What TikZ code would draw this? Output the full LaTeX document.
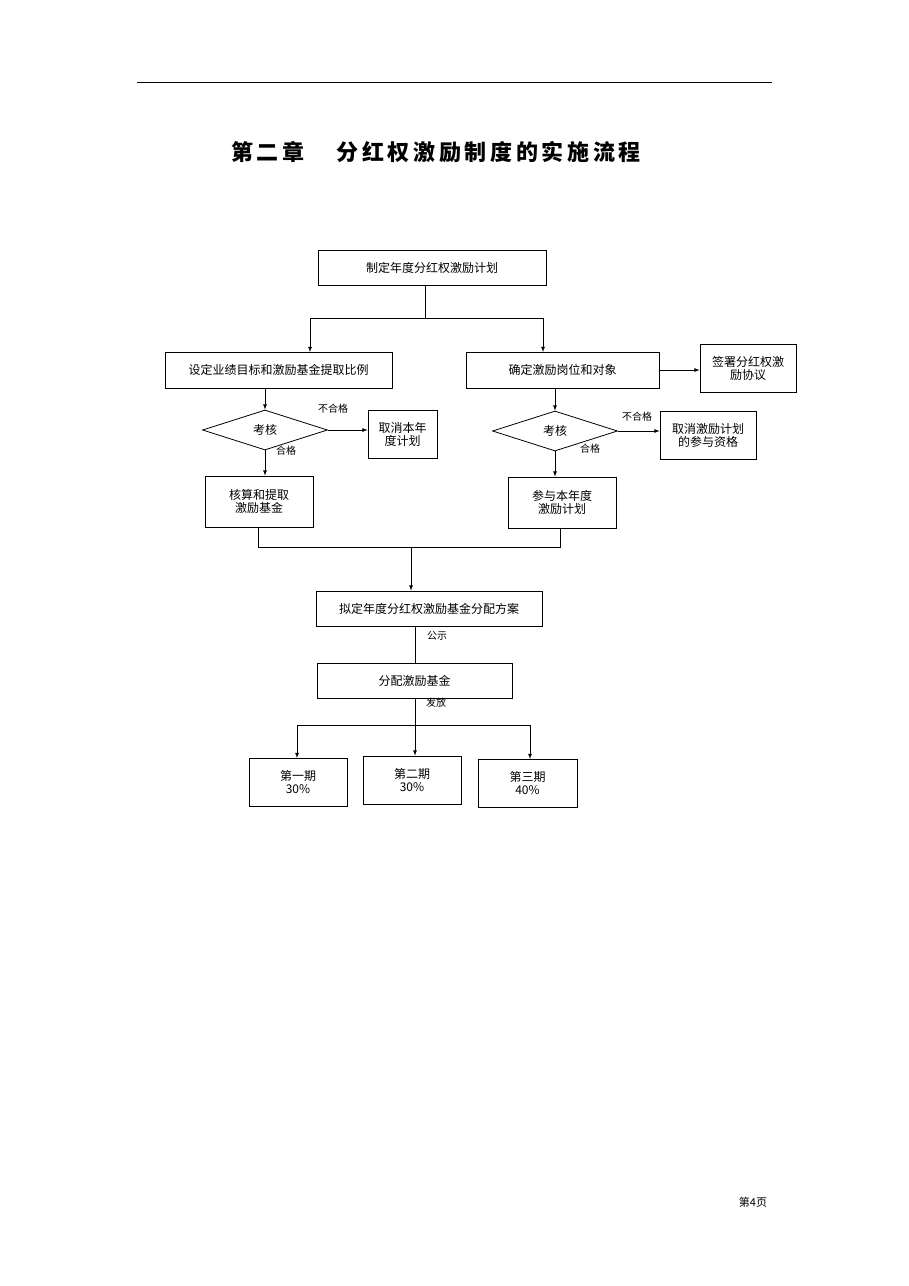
\documentclass[tikz,border=0pt]{standalone}
\usepackage{fontspec}
\setmainfont{Liberation Serif}
\newfontfamily\cjk{Noto Sans CJK SC}
\usetikzlibrary{shapes.geometric,calc}
\begin{document}
\begin{tikzpicture}[x=1pt,y=-1pt,
    box/.style={draw, thick, minimum width=#1, align=center, inner sep=2pt, font=\cjk\fontsize{12}{13}\selectfont},
    box/.default=100pt,
    check/.style={draw, thick, diamond, aspect=3.1, minimum width=125pt, minimum height=40pt, inner sep=0pt, font=\cjk\fontsize{12}{13}\selectfont},
    lbl/.style={font=\cjk\fontsize{10}{11}\selectfont},
    arrow/.style={-latex, thick},
    line/.style={thick}
]
    \useasboundingbox (0,0) rectangle (909,1286);
    \draw[line] (137,82) -- (772,82);
    \node[font=\cjk\bfseries\fontsize{22}{24}\selectfont] (title) at (436,152) {第\,二\,章\quad\ \ 分\,红\,权\,激\,励\,制\,度\,的\,实\,施\,流\,程};

    \node[box=228pt, minimum height=35pt] (plan) at (432,267.5) {制定年度分红权激励计划};
    \node[box=227pt, minimum height=36pt] (target) at (278.5,370) {设定业绩目标和激励基金提取比例};
    \node[box=193pt, minimum height=36pt] (post) at (562.5,370) {确定激励岗位和对象};
    \node[box=96pt, minimum height=48pt] (sign) at (748,368) {签署分红权激\\励协议};

    \node[check] (checkL) at (265,430) {考核};
    \node[box=69pt, minimum height=48pt] (cancelL) at (402.5,434) {取消本年\\度计划};
    \node[box=108pt, minimum height=51pt] (fund) at (259,501.5) {核算和提取\\激励基金};

    \node[check] (checkR) at (555,431) {考核};
    \node[box=96pt, minimum height=48pt] (cancelR) at (708,435) {取消激励计划\\的参与资格};
    \node[box=108pt, minimum height=51pt] (join) at (562,502.5) {参与本年度\\激励计划};

    \node[box=226pt, minimum height=35pt] (scheme) at (429,608.5) {拟定年度分红权激励基金分配方案};
    \node[box=195pt, minimum height=35pt] (alloc) at (414.5,680.5) {分配激励基金};

    \node[box=98pt, minimum height=48pt, font=\cjk\fontsize{12}{13}\selectfont] (p1) at (298,782) {第一期\\30\%};
    \node[box=98pt, minimum height=48pt] (p2) at (412,780) {第二期\\30\%};
    \node[box=99pt, minimum height=48pt] (p3) at (527.5,783) {第三期\\40\%};

    % split of the plan
    \coordinate (s0) at (425,318);
    \draw[line] (plan.south -| s0) -- (s0);
    \draw[arrow] (s0) -| (310,352);
    \draw[arrow] (s0) -| (543,352);
    \draw[arrow] (post.east) -- (sign.west |- post.east);

    % left branch
    \draw[arrow] (target.south -| checkL) -- (checkL.north);
    \draw[arrow] (checkL.east) -- (cancelL.west |- checkL.east);
    \node[lbl] at (333,409) {不合格};
    \draw[arrow] (checkL.south) -- (checkL.south |- fund.north);
    \node[lbl] at (286,451) {合格};

    % right branch
    \draw[arrow] (post.south -| checkR) -- (checkR.north);
    \draw[arrow] (checkR.east) -- (cancelR.west |- checkR.east);
    \node[lbl] at (637,417) {不合格};
    \draw[arrow] (checkR.south) -- (checkR.south |- join.north);
    \node[lbl] at (590,449) {合格};

    % merge
    \coordinate (m0) at (411,547);
    \draw[line] (fund.south -| 258,0) -- (258,547) -- (560,547) -- (join.south -| 560,0);
    \draw[arrow] (m0) -- (m0 |- scheme.north);

    \draw[line] (scheme.south -| 415,0) -- (alloc.north -| 415,0);
    \node[lbl] at (437,636) {公示};
    \coordinate (d0) at (415,725);
    \draw[line] (alloc.south -| d0) -- (d0);
    \node[lbl] at (436,703) {发放};
    \draw[line] (297,725) -- (530,725);
    \draw[arrow] (297,725) -- (297,758);
    \draw[arrow] (d0) -- (d0 |- p2.north);
    \draw[arrow] (530,725) -- (530,759);

    \node[font=\cjk\fontsize{11}{12}\selectfont] (page) at (753,1202) {第4页};
\end{tikzpicture}
\end{document}
